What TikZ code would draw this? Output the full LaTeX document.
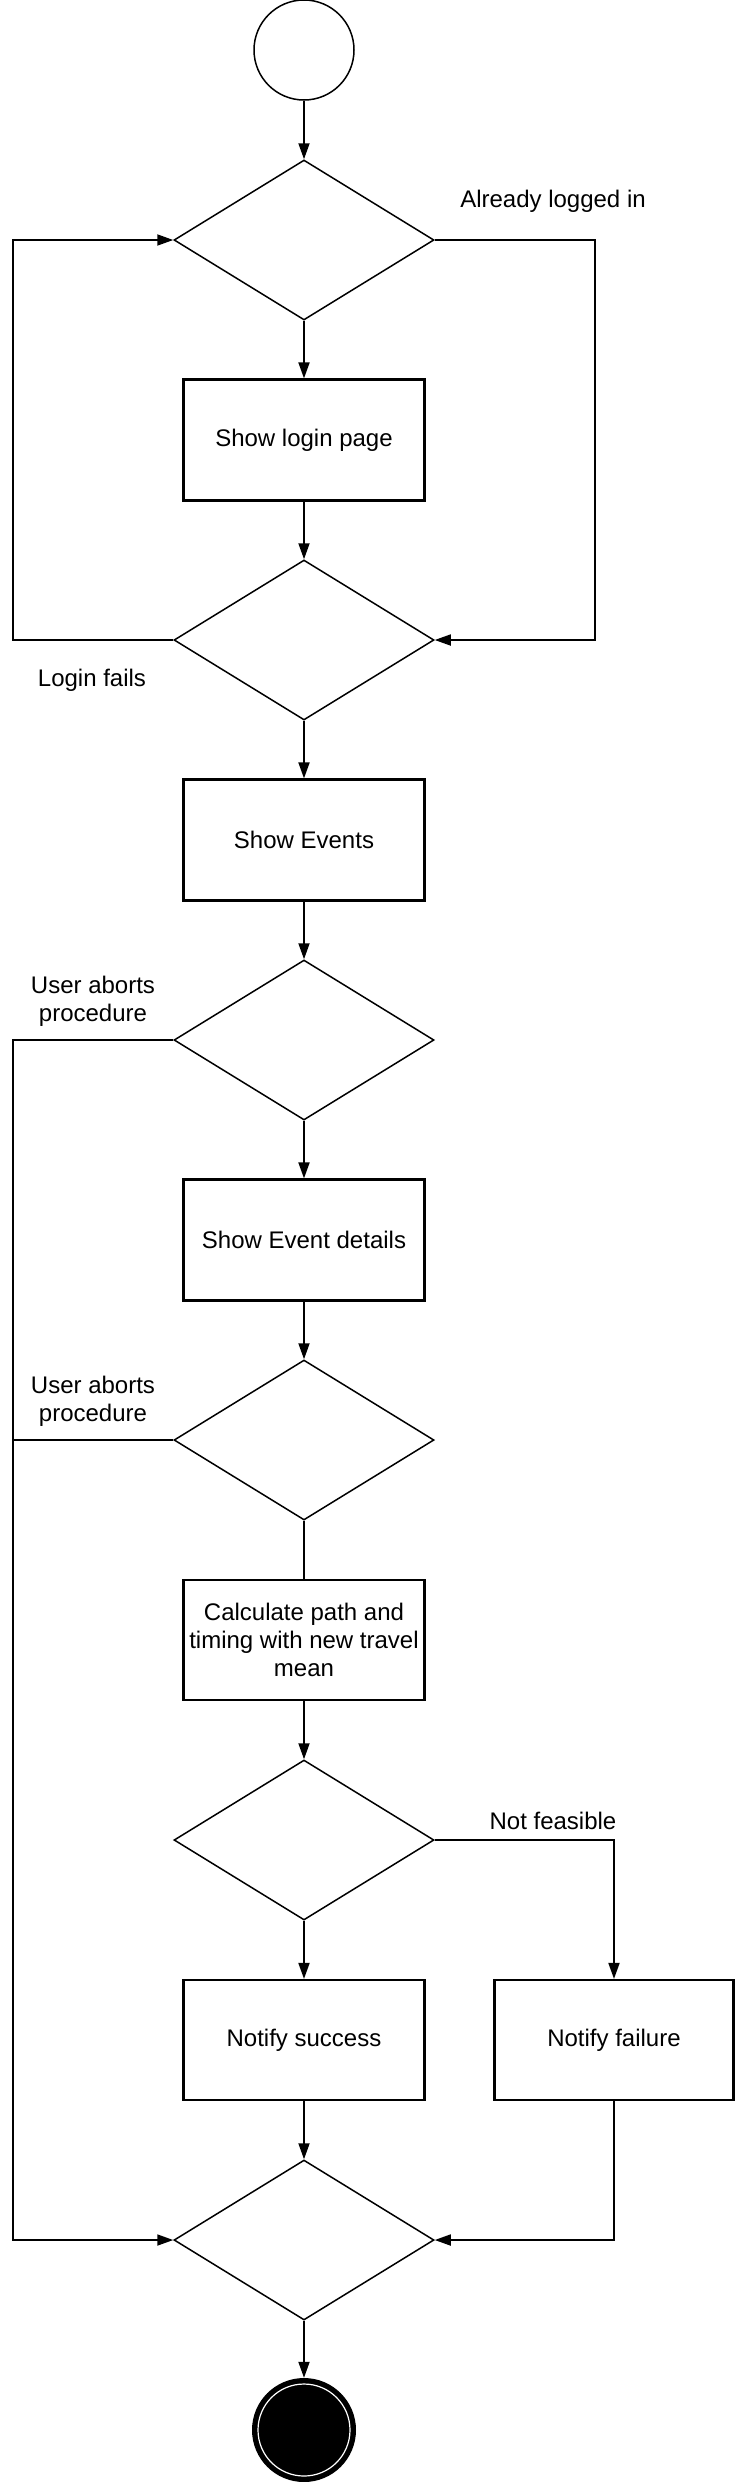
\documentclass[tikz,border=0pt]{standalone}
\usepackage{fontspec}
\setmainfont{Liberation Sans}
\usetikzlibrary{shapes.geometric,arrows.meta}
\tikzset{
  base/.style={line width=1.5pt, draw=black},
  actbox/.style={line width=2.2pt, draw=black, rectangle, minimum width=241pt, minimum height=121pt, inner sep=0pt, align=center, font=\fontsize{24pt}{28pt}\selectfont},
  decision/.style={base, diamond, minimum width=260pt, minimum height=160pt, inner sep=0pt},
  lbl/.style={align=center, inner sep=0pt, font=\fontsize{24pt}{28pt}\selectfont},
  flow/.style={line width=1.8pt, -{Triangle[length=16pt,width=11pt]}},
  plain/.style={line width=1.8pt}
}
\begin{document}
\begin{tikzpicture}[x=1pt,y=-1pt]
\useasboundingbox (0,0) rectangle (735,2482);
% nodes
\node[base, circle, minimum size=100pt, inner sep=0pt] (start) at (304,50) {};
\node[decision] (d1) at (304,240) {};
\node[actbox] (b1) at (304,440) {Show login page};
\node[decision] (d2) at (304,640) {};
\node[actbox] (b2) at (304,840) {Show Events};
\node[decision] (d3) at (304,1040) {};
\node[actbox] (b3) at (304,1240) {Show Event details};
\node[decision] (d4) at (304,1440) {};
\node[actbox, minimum height=120pt] (b4) at (304,1640) {Calculate path and\\timing with new travel\\mean};
\node[decision] (d5) at (304,1840) {};
\node[actbox, minimum height=120pt] (b5) at (304,2040) {Notify success};
\node[actbox, minimum width=239pt, minimum height=120pt] (b6) at (614,2040) {Notify failure};
\node[decision] (d6) at (304,2240) {};
\node[circle, fill=black, minimum size=104pt, inner sep=0pt] (end) at (304,2430) {};
\draw[white, line width=1.2pt] (end.center) circle (46);
% labels
\node[lbl] (lalready) at (553,201) {Already logged in};
\node[lbl] (lfails) at (92,680) {Login fails};
\node[lbl] (labort1) at (93,1001) {User aborts\\procedure};
\node[lbl] (labort2) at (93,1401) {User aborts\\procedure};
\node[lbl] (lnotf) at (553,1821) {Not feasible};
% connectors
\draw[flow] (start) -- (d1);
\draw[flow] (d1) -- (b1);
\draw[flow] (b1) -- (d2);
\draw[flow] (d2.west) -- ++(-160,0) |- (d1.west);
\draw[flow] (d1.east) -- ++(160,0) |- (d2.east);
\draw[flow] (d2) -- (b2);
\draw[flow] (b2) -- (d3);
\draw[flow] (d3) -- (b3);
\draw[flow] (b3) -- (d4);
\draw[plain] (d4) -- (b4);
\draw[flow] (b4) -- (d5);
\draw[flow] (d5) -- (b5);
\draw[flow] (d5.east) -| (b6.north);
\draw[flow] (b5) -- (d6);
\draw[flow] (b6.south) |- (d6.east);
\draw[flow] (d3.west) -- ++(-160,0) |- (d6.west);
\draw[plain] (d4.west) -- ++(-160,0);
\draw[flow] (d6) -- (end);
\end{tikzpicture}
\end{document}
